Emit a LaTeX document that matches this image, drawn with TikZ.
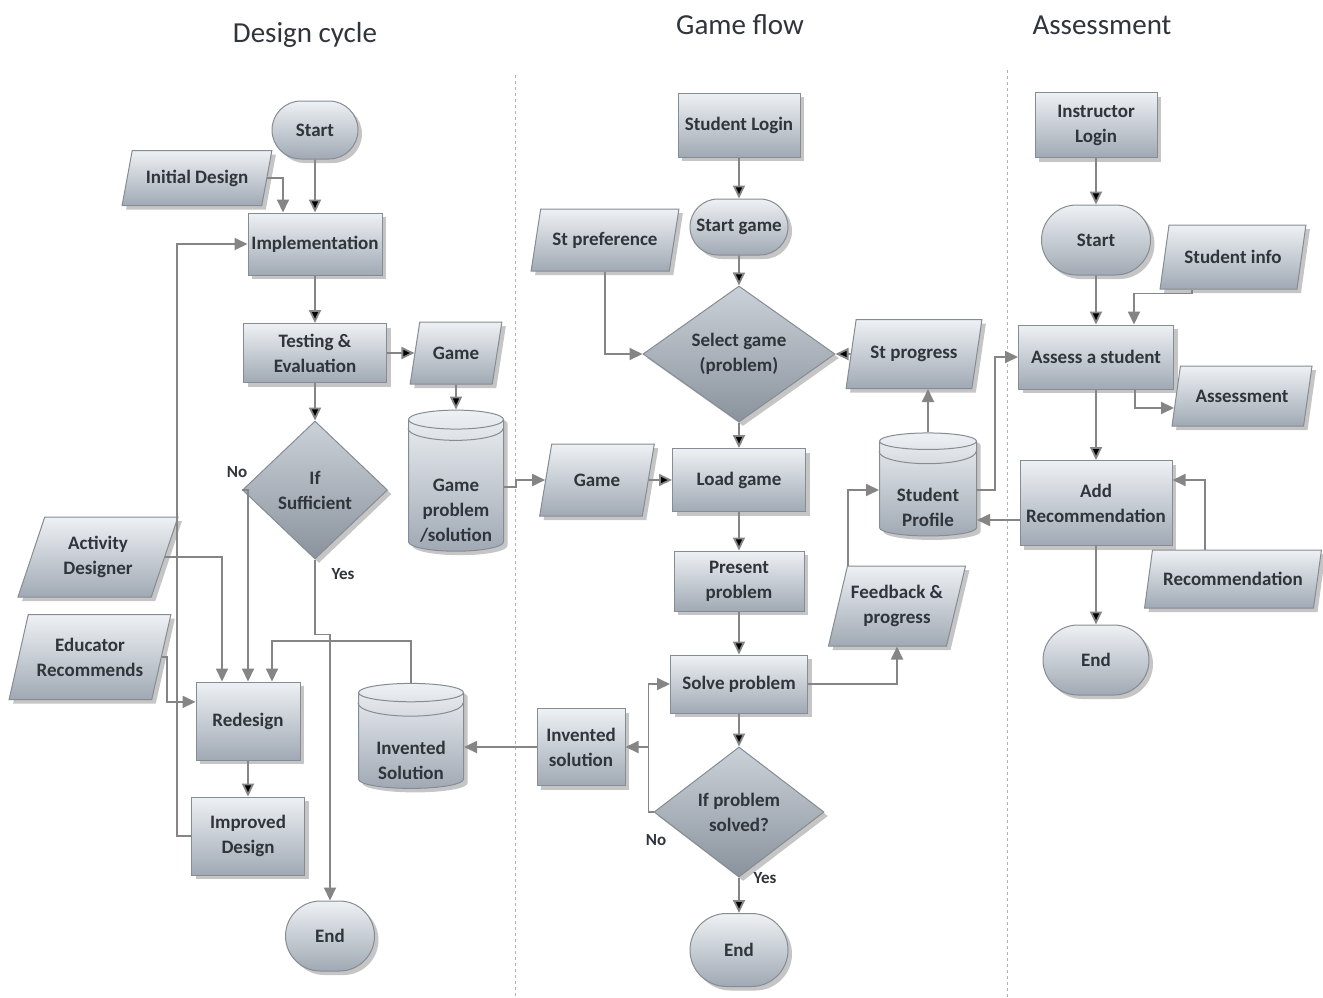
\documentclass[tikz,border=0pt]{standalone}
\usepackage{fontspec}
\setmainfont{Carlito}
\usetikzlibrary{positioning,shapes.geometric,shapes.misc,shadows,arrows.meta}

\definecolor{boxtop}{HTML}{EEF1F4}
\definecolor{boxbot}{HTML}{A0A9B4}
\definecolor{dtop}{HTML}{CBD1D8}
\definecolor{dbot}{HTML}{8A939D}
\definecolor{edgec}{HTML}{868C93}
\definecolor{linec}{HTML}{858585}
\definecolor{textc}{HTML}{30343B}

\newcommand{\boxfont}{\fontsize{19}{25}\selectfont\bfseries}
\newcommand{\headfont}{\fontsize{29}{34}\selectfont}
\newcommand{\lowstrut}[1]{\rule{0pt}{#1}}

\begin{document}
\begin{tikzpicture}[x=1pt,y=-1pt,>={Triangle[length=13pt,width=12pt]},on grid,thick,
    boxbase/.style={draw=edgec,line width=1pt,top color=boxtop,bottom color=boxbot,text=textc,
      font=\boxfont,align=center,inner sep=2pt,
      drop shadow={shadow xshift=4pt,shadow yshift=-4pt,opacity=0.45}},
    proc/.style={boxbase,rectangle},
    term/.style={boxbase,rounded rectangle},
    io/.style={boxbase,trapezium,trapezium left angle=68,trapezium right angle=112,trapezium stretches=true},
    decide/.style={boxbase,diamond,inner sep=0pt,top color=dtop,bottom color=dbot},
    store/.style={boxbase,cylinder,shape border rotate=90,aspect=0.25},
    conn/.style={draw=linec,line width=1.8pt,->},
    lbl/.style={text=textc,font=\fontsize{17}{20}\selectfont\bfseries},
    colhead/.style={text=textc,font=\headfont},
    divider/.style={draw=gray!60,dashed,line width=0.8pt}]
    \useasboundingbox[fill=white] (0,0) rectangle (1323,997);
    \draw[divider] (515,75) -- (515,997);
    \draw[divider] (1007,70) -- (1007,997);

    % Design cycle
    \node[colhead] (d_title) at (305,35) {Design cycle};
    \node[term,minimum width=90pt,minimum height=58pt] (d_start) at (315,130) {Start};
    \node[proc,minimum width=134pt,minimum height=62pt] (d_impl) [below=114pt of d_start] {Implementation};
    \node[io,minimum width=150pt,minimum height=55pt] (d_init) [below left=48pt and 118pt of d_start] {Initial Design};
    \node[proc,minimum width=143pt,minimum height=59pt] (d_test) [below=109pt of d_impl] {Testing \&\\Evaluation};
    \node[io,minimum width=92pt,minimum height=62pt] (d_game) [right=141pt of d_test] {Game};
    \node[decide,minimum width=145pt,minimum height=138pt] (d_suff) [below=137pt of d_test] {If\\Sufficient};
    \node[store,minimum width=95pt,minimum height=140pt] (d_gps) [below=134pt of d_game] {\lowstrut{60pt}Game\\problem\\/solution};
    \node[io,minimum width=160pt,minimum height=80pt] (d_act) [below left=67pt and 217pt of d_suff] {Activity\\Designer};
    \node[io,minimum width=162pt,minimum height=85pt] (d_edu) [below left=100pt and 8pt of d_act] {Educator\\Recommends};
    \node[proc,minimum width=104pt,minimum height=78pt] (d_redes) [below left=231pt and 67pt of d_suff] {Redesign};
    \node[proc,minimum width=113pt,minimum height=78pt] (d_impd) [below=115pt of d_redes] {Improved\\Design};
    \node[term,minimum width=93pt,minimum height=70pt] (d_end) [below right=100pt and 82pt of d_impd] {End};
    \node[store,minimum width=105pt,minimum height=105pt] (d_invs) [below right=21pt and 163pt of d_redes] {\lowstrut{50pt}Invented\\Solution};
    \node[lbl] (d_no) at (237,472) {No};
    \node[lbl] (d_yes) at (343,574) {Yes};

    \path[conn]
    (d_start) edge (d_impl)
    (d_impl) edge (d_test)
    (d_test) edge (d_game)
    (d_game) edge (d_gps)
    (d_test) edge (d_suff)
    (d_redes) edge (d_impd);
    \draw[conn] (d_init.east) -| ([xshift=-32pt]d_impl.north);
    \draw[conn] (d_impd.west) -- ++(-14,0) |- (d_impl.west);
    \draw[conn] (d_suff.west) -| (d_redes.north);
    \draw[conn] (d_suff.south) -- ++(0,75) -| (d_end.north);
    \draw[conn] (d_act.east) -| ([xshift=-26pt]d_redes.north);
    \draw[conn] (d_edu.east) -- ++(5,0) |- (d_redes.160);
    \draw[conn] (d_invs.north) -- ++(0,-42) -| ([xshift=24pt]d_redes.north);

    % Game flow
    \node[colhead] (g_title) at (740,25) {Game flow};
    \node[proc,minimum width=122pt,minimum height=64pt] (g_login) at (739,125) {Student Login};
    \node[term,minimum width=102pt,minimum height=56pt] (g_start) [below=102pt of g_login] {Start game};
    \node[io,minimum width=148pt,minimum height=62pt] (g_pref) [below left=13pt and 134pt of g_start] {St preference};
    \node[decide,minimum width=192pt,minimum height=132pt] (g_select) [below=127pt of g_start] {Select game\\(problem)};
    \node[io,minimum width=136pt,minimum height=69pt] (g_prog) [right=175pt of g_select] {St progress};
    \node[proc,minimum width=133pt,minimum height=63pt] (g_load) [below=126pt of g_select] {Load game};
    \node[io,minimum width=115pt,minimum height=72pt] (g_game) [left=142pt of g_load] {Game};
    \node[store,minimum width=97pt,minimum height=103pt] (g_prof) [below right=10pt and 189pt of g_load] {\lowstrut{48pt}Student\\Profile};
    \node[proc,minimum width=130pt,minimum height=60pt] (g_pres) [below=101pt of g_load] {Present\\problem};
    \node[proc,minimum width=137pt,minimum height=58pt] (g_solve) [below=103pt of g_pres] {Solve problem};
    \node[io,minimum width=137pt,minimum height=80pt] (g_feed) [above right=78pt and 158pt of g_solve] {Feedback \&\\progress};
    \node[proc,minimum width=88pt,minimum height=77pt] (g_inv) [below left=63pt and 158pt of g_solve] {Invented\\solution};
    \node[decide,minimum width=170pt,minimum height=130pt] (g_solved) [below=128pt of g_solve] {If problem\\solved?};
    \node[term,minimum width=102pt,minimum height=73pt] (g_end) [below=138pt of g_solved] {End};
    \node[lbl] (g_no) at (656,840) {No};
    \node[lbl] (g_yes) at (765,878) {Yes};

    \path[conn]
    (g_login) edge (g_start)
    (g_start) edge (g_select)
    (g_prog) edge (g_select)
    (g_select) edge (g_load)
    (g_game) edge (g_load)
    (g_load) edge (g_pres)
    (g_pres) edge (g_solve)
    (g_solve) edge (g_solved)
    (g_solved) edge (g_end);
    \draw[conn] (d_gps.east) -- ++(12,0) |- (g_game.west);
    \draw[conn] (g_pref.south) |- (g_select.west);
    \draw[conn] (g_solve.east) -| (g_feed.south);
    \draw[conn] ([xshift=-49pt]g_feed.north) |- (g_prof.west);
    \draw[conn] (g_prof.north) -- (g_prof.north |- g_prog.south);
    \draw[conn] (g_solved.west) -- ++(-5,0) coordinate (g_join) |- (g_solve.west);
    \draw[conn] (g_join |- g_inv.east) -- (g_inv.east);
    \draw[conn] (g_inv.west) -- (g_inv.west -| d_invs.east);

    % Assessment
    \node[colhead] (a_title) at (1102,25) {Assessment};
    \node[proc,minimum width=122pt,minimum height=65pt] (a_login) at (1096,125) {Instructor\\Login};
    \node[term,minimum width=113pt,minimum height=70pt] (a_start) [below=115pt of a_login] {Start};
    \node[proc,minimum width=155pt,minimum height=64pt] (a_assess) [below=117pt of a_start] {Assess a student};
    \node[io,minimum width=146pt,minimum height=64pt] (a_info) [above right=100pt and 137pt of a_assess] {Student info};
    \node[io,minimum width=140pt,minimum height=60pt] (a_asmt) [below right=39pt and 146pt of a_assess] {Assessment};
    \node[proc,minimum width=152pt,minimum height=85pt] (a_add) [below=146pt of a_assess] {Add\\Recommendation};
    \node[io,minimum width=177pt,minimum height=58pt] (a_rec) [below right=76pt and 137pt of a_add] {Recommendation};
    \node[term,minimum width=110pt,minimum height=70pt] (a_end) [below=157pt of a_add] {End};

    \path[conn]
    (a_login) edge (a_start)
    (a_start) edge (a_assess)
    (a_assess) edge (a_add)
    (a_add) edge (a_end);
    \draw[conn] ([xshift=-41pt]a_info.south) -- ++(0,4) -| ([xshift=38pt]a_assess.north);
    \draw[conn] ([xshift=39pt]a_assess.south) |- (a_asmt.190);
    \draw[conn] ([xshift=-28pt]a_rec.north) |- ([yshift=23pt]a_add.east);
    \draw[conn] (g_prof.east) -- ++(18,0) |- (a_assess.west);
    \draw[conn] ([yshift=-17pt]a_add.west) -- ([yshift=-17pt]a_add.west -| g_prof.east);

    % lid rings on the stores
    \foreach \s/\r in {d_gps/47.5,d_invs/52.5,g_prof/48.5}
      \draw[edgec,line width=1pt] (\s.west |- \s.north) ++(0,\r/4+7) arc[start angle=180,end angle=0,x radius=\r,y radius=\r/4];
  \end{tikzpicture}
\end{document}
